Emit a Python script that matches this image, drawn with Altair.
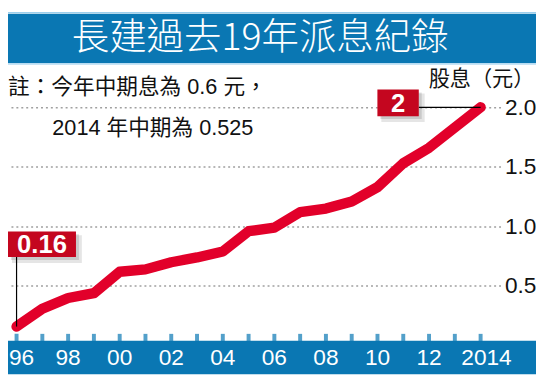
import altair as alt
import pandas as pd

years = list(range(1996, 2015))
dividends = [0.16, 0.31, 0.40, 0.44, 0.62, 0.64, 0.70, 0.74, 0.79, 0.96,
             0.99, 1.12, 1.15, 1.21, 1.33, 1.53, 1.66, 1.83, 2.00]
tick_years = list(range(1996, 2015))
label_years = [1998, 2000, 2002, 2004, 2006, 2008, 2010, 2012]
label_texts = ["98", "00", "02", "04", "06", "08", "10", "12"]
first_label = ("96", 1996)
last_label = ("2014", 2014)
y_ticks = [0.5, 1.0, 1.5, 2.0]

title = "長建過去19年派息紀錄"
note1 = "註：今年中期息為 0.6 元，"
note2 = "2014 年中期為 0.525"
unit = "股息（元）"

FONT = "Liberation Sans, Noto Sans CJK TC"
BLUE = "#0A77B3"
LINE_RED = "#E2002A"
BOX_RED = "#C4061F"

W, H = 500, 369
xs = alt.Scale(domain=[1995.668, 2014.773], nice=False, zero=False)
ys = alt.Scale(domain=[-0.240, 2.810], nice=False, zero=False)

df = pd.DataFrame({"year": years, "v": dividends})
ticks_df = pd.DataFrame({"year": tick_years})
labels_df = pd.DataFrame({"year": label_years, "t": label_texts})
one = pd.DataFrame({"a": [0]})

base1 = alt.Chart(one)

title_band = base1.mark_rect(color=BLUE).encode(
    x=alt.value(0), x2=alt.value(536), y=alt.value(3), y2=alt.value(53))
title_top = base1.mark_rule(color="#7FC1E8", strokeWidth=1).encode(
    x=alt.value(0), x2=alt.value(536), y=alt.value(2))
title_bot = base1.mark_rule(color="#7FC1E8", strokeWidth=1).encode(
    x=alt.value(0), x2=alt.value(536), y=alt.value(54))
title_txt = base1.mark_text(font="Noto Sans CJK TC", fontSize=38, fontWeight=300,
                            color="white", align="center", baseline="middle").encode(
    x=alt.value(256), y=alt.value(29), text=alt.value(title))

note1_txt = base1.mark_text(font=FONT, fontSize=22, color="#111",
                            align="left", baseline="middle").encode(
    x=alt.value(0), y=alt.value(77), text=alt.value(note1))
note2_txt = base1.mark_text(font=FONT, fontSize=22, color="#111",
                            align="left", baseline="middle").encode(
    x=alt.value(45), y=alt.value(119), text=alt.value(note2))
unit_txt = base1.mark_text(font=FONT, fontSize=21.5, color="#111",
                           align="left", baseline="middle").encode(
    x=alt.value(427), y=alt.value(70), text=alt.value(unit))

bottom_band = base1.mark_rect(color=BLUE).encode(
    x=alt.value(0), x2=alt.value(536), y=alt.value(335), y2=alt.value(369))

tick_marks = alt.Chart(ticks_df).mark_tick(color=BLUE, thickness=4, size=8,
                                            orient="vertical").encode(
    x=alt.X("year:Q", scale=xs, axis=None), y=alt.value(332))

lab_style = dict(font="Liberation Sans", fontSize=23, color="white", baseline="middle")
x_labels = alt.Chart(labels_df).mark_text(**lab_style).encode(
    x=alt.X("year:Q", scale=xs, axis=None), y=alt.value(353), text="t:N")
x_first = alt.Chart(pd.DataFrame({"year": [first_label[1]], "t": [first_label[0]]})).mark_text(
    dx=5, **lab_style).encode(
    x=alt.X("year:Q", scale=xs, axis=None), y=alt.value(353), text="t:N")
x_last = alt.Chart(pd.DataFrame({"year": [last_label[1]], "t": [last_label[0]]})).mark_text(
    dx=6, **lab_style).encode(
    x=alt.X("year:Q", scale=xs, axis=None), y=alt.value(353), text="t:N")

line = alt.Chart(df).mark_line(color=LINE_RED, strokeWidth=10.5, strokeCap="round",
                               strokeJoin="round").encode(
    x=alt.X("year:Q", scale=xs, axis=None),
    y=alt.Y("v:Q", scale=ys, axis=alt.Axis(
        orient="right", values=y_ticks, format=".1f", title=None,
        ticks=False, domain=False, labelPadding=4,
        labelFont="Liberation Sans", labelFontSize=23, labelColor="#111",
        grid=True, gridDash=[2, 3], gridColor="#a0a0a0", gridWidth=1.5)))

# annotations
first = df.iloc[[0]]
last = df.iloc[[-1]]

conn1 = alt.Chart(first).mark_rule(color="black", strokeWidth=1.2).encode(
    x=alt.X("year:Q", scale=xs, axis=None),
    y=alt.Y("v:Q", scale=ys), y2=alt.value(250))
conn2 = alt.Chart(last).mark_rule(color="black", strokeWidth=1.2).encode(
    x=alt.X("year:Q", scale=xs, axis=None), x2=alt.value(417),
    y=alt.Y("v:Q", scale=ys))

def box(x0, x1, y0, y1, txt, size):
    s1 = base1.mark_rect(color="#000", opacity=0.10).encode(
        x=alt.value(x0 + 4), x2=alt.value(x1 + 6), y=alt.value(y0 + 4), y2=alt.value(y1 + 6))
    s2 = base1.mark_rect(color="#000", opacity=0.12).encode(
        x=alt.value(x0 + 3), x2=alt.value(x1 + 3), y=alt.value(y0 + 3), y2=alt.value(y1 + 3))
    r = base1.mark_rect(color=BOX_RED).encode(
        x=alt.value(x0), x2=alt.value(x1), y=alt.value(y0), y2=alt.value(y1))
    t = base1.mark_text(font="Liberation Sans", fontWeight="bold", fontSize=size,
                        color="white", align="center", baseline="middle").encode(
        x=alt.value((x0 + x1) / 2), y=alt.value((y0 + y1) / 2 + 1), text=alt.value(txt))
    return [s1, s2, r, t]

box1 = box(0, 69, 224, 250, "0.16", 26)
box2 = box(375, 417, 80, 107, "2", 26)

chart = alt.layer(
    title_band, title_top, title_bot, title_txt, note1_txt, note2_txt, unit_txt,
    bottom_band, tick_marks, x_labels, x_first, x_last, line, conn1, conn2, *box1, *box2
).properties(
    width=W, height=H, background="white",
    padding={"left": 0, "top": 0, "right": 36, "bottom": 0},
    autosize=alt.AutoSizeParams(type="none"),
).configure_view(stroke=None)

chart.save("out.html", embed_options={"renderer": "svg", "actions": False})
